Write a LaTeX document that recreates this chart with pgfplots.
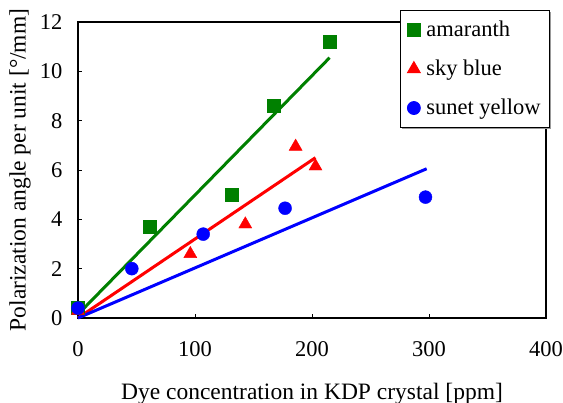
\documentclass[border=0pt]{standalone}
\usepackage{fontspec}
\setmainfont{Liberation Serif}
\usepackage{pgfplots}
\pgfplotsset{compat=1.18}
\usetikzlibrary{shadows}
\definecolor{dgreen}{RGB}{0,128,0}
\newcommand{\bigf}{\fontsize{22.5}{27}\selectfont}
\newcommand{\labf}{\fontsize{23.5}{28}\selectfont}
\begin{document}
\bigf
\begin{tikzpicture}[x=1pt,y=1pt]
\path[use as bounding box] (0,0) rectangle (563,403);
\begin{axis}[
  at={(78pt,85pt)}, anchor=south west,
  scale only axis, width=468pt, height=296pt,
  xmin=0, xmax=400, ymin=0, ymax=12,
  xtick={0,100,200,300,400}, ytick={0,2,4,6,8,10,12},
  xtick pos=bottom, ytick pos=left,
  tick align=inside, major tick length=4pt,
  axis line style={line width=1.3pt},
  tick style={line width=0.8pt, black},
  /pgf/number format/assume math mode=true,
  ticklabel style={font=\bigf},
  xticklabel style={yshift=-16pt},
  yticklabel style={xshift=-8pt},
  xlabel={Dye concentration in KDP crystal [ppm]},
  ylabel={Polarization angle per unit [°/mm]},
  label style={font=\labf},
  xlabel style={yshift=-11pt},
  ylabel style={yshift=-6pt},
  clip=false,
  legend cell align=left,
  legend style={at={(rel axis cs:0.688,1.04)}, anchor=north west,
    draw=black, line width=0.8pt, fill=white,
    drop shadow={shadow xshift=1.5pt, shadow yshift=-1.5pt, fill=gray!80, opacity=1},
    font=\bigf,
    row sep=16pt, inner xsep=7pt, inner ysep=8pt,
    /tikz/every odd column/.append style={column sep=4pt}},
]
% fitted lines
\addplot[dgreen, line width=3pt, forget plot] coordinates {(0,0.15) (215,10.55)};
\addplot[red, line width=3pt, forget plot] coordinates {(0,0) (203,6.5)};
\addplot[blue, line width=3pt, forget plot] coordinates {(0,0) (298,6.05)};
% data
\addplot[only marks, mark=square*, mark size=6.5pt, dgreen, mark options={fill=dgreen, draw=dgreen}]
  coordinates {(0,0.4) (61,3.7) (131,5.0) (167,8.6) (215,11.2)};
\addlegendentry{amaranth}
\addplot[only marks, mark=triangle*, mark size=7.5pt, red, mark options={fill=red, draw=red}]
  coordinates {(0,0.3) (96,2.6) (143,3.8) (186,6.95) (203,6.15)};
\addlegendentry{sky blue}
\addplot[only marks, mark=*, mark size=6.5pt, blue, mark options={fill=blue, draw=blue}]
  coordinates {(0,0.4) (46,2.0) (107,3.4) (177,4.45) (297,4.9)};
\addlegendentry{sunet yellow}
\end{axis}
\end{tikzpicture}
\end{document}
